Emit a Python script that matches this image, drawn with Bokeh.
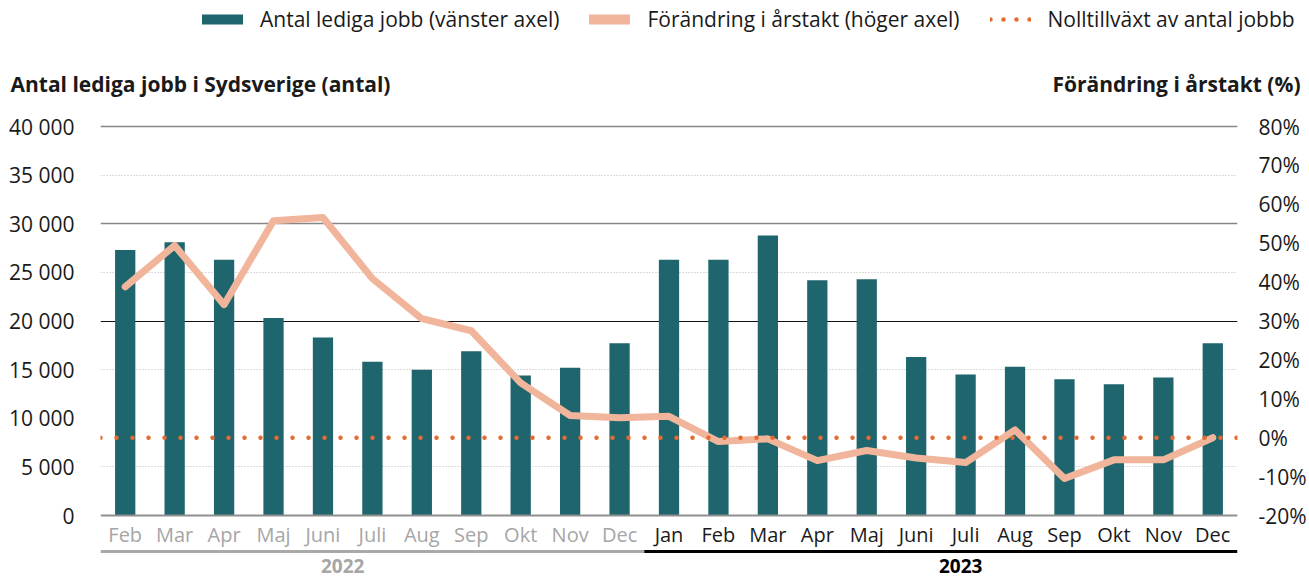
from bokeh.plotting import figure
from bokeh.layouts import column
from bokeh.core.properties import value
from bokeh.models import (Range1d, LinearAxis, FixedTicker, Grid, Span, Legend, LegendItem,
                          Label, LabelSet, ColumnDataSource, BoxAnnotation)
from bokeh.embed import file_html
from bokeh.resources import INLINE

# ---------------- data ----------------
months = ["Feb", "Mar", "Apr", "Maj", "Juni", "Juli", "Aug", "Sep", "Okt", "Nov", "Dec",
          "Jan", "Feb", "Mar", "Apr", "Maj", "Juni", "Juli", "Aug", "Sep", "Okt", "Nov", "Dec"]
years = ["2022"] * 11 + ["2023"] * 12
lediga_jobb = [27300, 28100, 26300, 20300, 18300, 15800, 15000, 16900, 14400, 15200, 17700,
               26300, 26300, 28800, 24200, 24300, 16300, 14500, 15300, 14000, 13500, 14200, 17700]
forandring = [38.8, 49.4, 34.2, 55.8, 56.6, 40.9, 30.6, 27.5, 14.1, 5.7, 5.1,
              5.5, -1.0, -0.3, -5.9, -3.3, -5.2, -6.4, 2.0, -10.5, -5.7, -5.7, 0.0]
nolltillvaxt = 0

left_ticks = [0, 5000, 10000, 15000, 20000, 25000, 30000, 35000, 40000]
left_labels = ["0", "5 000", "10 000", "15 000", "20 000", "25 000", "30 000", "35 000", "40 000"]
right_ticks = [-20, -10, 0, 10, 20, 30, 40, 50, 60, 70, 80]
right_labels = ["-20%", "-10%", "0%", "10%", "20%", "30%", "40%", "50%", "60%", "70%", "80%"]

legend_labels = ["Antal lediga jobb (vänster axel)", "Förändring i årstakt (höger axel)",
                 "Nolltillväxt av antal jobbb"]
left_title = "Antal lediga jobb i Sydsverige (antal)"
right_title = "Förändring i årstakt (%)"

# ---------------- style ----------------
FONT = "Open Sans"
TEAL = "#1e656e"
SALMON = "#f1b59b"
ORANGE = "#e8692d"
GREY_TXT = "#a6a6a6"
DARK = "#1a1a1a"

W = 1309
TOP_H = 105
MAIN_H = 578 - TOP_H
PLOT_PX = 389                      # pixel height of 0..40000
L0, L1 = left_ticks[0], left_ticks[-1]
R0, R1 = right_ticks[0], right_ticks[-1]
upp = (L1 - L0) / PLOT_PX          # left-axis units per pixel
EXTRA_TOP, EXTRA_BOTTOM = 21, 63   # pixels of frame above 40000 and below 0


def px(n):
    return n * upp


def to_right(v):
    return R0 + (v - L0) * (R1 - R0) / (L1 - L0)


xs = list(range(len(months)))
year_colors = {"2022": GREY_TXT, "2023": DARK}
NAN = float("nan")

# ---------------- top strip: legend and axis titles ----------------
top = figure(width=W, height=TOP_H, x_range=Range1d(0, W), y_range=Range1d(0, TOP_H),
             output_backend="svg", toolbar_location=None, frame_align=False,
             min_border_left=0, min_border_right=0, min_border_top=0, min_border_bottom=0)
top.outline_line_color = None
top.xaxis.visible = False
top.yaxis.visible = False
top.xgrid.visible = False
top.ygrid.visible = False

lg1 = top.line(x=[NAN], y=[NAN], line_color=TEAL, line_width=10, line_cap="round")
lg2 = top.line(x=[NAN], y=[NAN], line_color=SALMON, line_width=10, line_cap="round")
lg3 = top.line(x=[NAN], y=[NAN], line_color=ORANGE, line_width=4.5, line_cap="round",
               line_dash="0 13")
legend = Legend(items=[LegendItem(label=legend_labels[0], renderers=[lg1]),
                       LegendItem(label=legend_labels[1], renderers=[lg2]),
                       LegendItem(label=legend_labels[2], renderers=[lg3])],
                orientation="horizontal", location=(202, 72),
                glyph_width=41, glyph_height=20, label_standoff=17, spacing=30,
                padding=0, margin=0, border_line_color=None, background_fill_alpha=0,
                label_text_font=FONT, label_text_font_size="21px", label_text_color=DARK,
                label_height=20)
top.add_layout(legend)

top.add_layout(Label(x=10, y=TOP_H - 83, text=left_title,
                     text_font=FONT, text_font_style="bold", text_font_size="21px",
                     text_color=DARK, text_align="left", text_baseline="middle"))
top.add_layout(Label(x=1300, y=TOP_H - 83, text=right_title,
                     text_font=FONT, text_font_style="bold", text_font_size="21px",
                     text_color=DARK, text_align="right", text_baseline="middle"))

# ---------------- main chart ----------------
ys0, ys1 = L0 - px(EXTRA_BOTTOM), L1 + px(EXTRA_TOP)
p = figure(width=W, height=MAIN_H, x_range=Range1d(-0.5, len(months) - 0.5),
           y_range=Range1d(ys0, ys1), frame_align=False,
           output_backend="svg", toolbar_location=None,
           min_border_left=100, min_border_right=71, min_border_top=0, min_border_bottom=0)
p.outline_line_color = None
p.extra_y_ranges = {"pct": Range1d(to_right(ys0), to_right(ys1))}
p.xaxis.visible = False
p.xgrid.visible = False
p.ygrid.visible = False

# left axis
p.yaxis.ticker = FixedTicker(ticks=left_ticks)
p.yaxis.major_label_overrides = dict(zip(left_ticks, left_labels))
p.yaxis.axis_line_color = None
p.yaxis.major_tick_line_color = None
p.yaxis.minor_tick_line_color = None
p.yaxis.major_label_standoff = 20
p.yaxis.major_label_text_font = FONT
p.yaxis.major_label_text_font_size = "21px"
p.yaxis.major_label_text_color = DARK

# right axis
ra = LinearAxis(y_range_name="pct", ticker=FixedTicker(ticks=right_ticks),
                major_label_overrides=dict(zip(right_ticks, right_labels)),
                axis_line_color=None, major_tick_line_color=None, minor_tick_line_color=None,
                major_label_standoff=15, major_label_text_font=FONT,
                major_label_text_font_size="21px", major_label_text_color=DARK)
p.add_layout(ra, "right")

# grids
p.add_layout(Grid(dimension=1, ticker=FixedTicker(ticks=[5000, 15000, 25000, 35000]),
                  grid_line_color="#b8b8b8", grid_line_width=1, grid_line_dash="1 2"))
p.add_layout(Grid(dimension=1, ticker=FixedTicker(ticks=[30000, 40000]),
                  grid_line_color="#868686", grid_line_width=1.5))
p.add_layout(Grid(dimension=1, ticker=FixedTicker(ticks=[20000]),
                  grid_line_color="#111111", grid_line_width=1.2))

# bars
p.vbar(x=xs, top=lediga_jobb, width=0.41, fill_color=TEAL, line_color=None)

# baseline (x axis line)
p.add_layout(Span(location=L0, dimension="width", line_color="#8f8f8f", line_width=2))

# yearly change line
p.line(x=xs, y=forandring, y_range_name="pct", line_color=SALMON, line_width=7,
       line_join="round", line_cap="round")

# zero growth line
p.add_layout(Span(location=nolltillvaxt, dimension="width", y_range_name="pct",
                  line_color=ORANGE, line_width=4.5, line_dash="0 16", line_cap="round"))

# month labels
msrc = ColumnDataSource(dict(x=xs, y=[px(-19)] * len(xs), text=months,
                             color=[year_colors[y] for y in years]))
p.add_layout(LabelSet(x="x", y="y", text="text", source=msrc,
                      text_color="color", text_font=value(FONT), text_font_size=value("20px"),
                      text_align="center", text_baseline="middle"))

# year brackets and labels
split = years.index("2023") - 0.5
p.add_layout(BoxAnnotation(left=-0.5, right=split, top=px(-34.5), bottom=px(-37.5),
                           fill_color="#a9a9a9", fill_alpha=1, line_color=None))
p.add_layout(BoxAnnotation(left=split, right=len(months) - 0.5, top=px(-34.5), bottom=px(-37.5),
                           fill_color="#000000", fill_alpha=1, line_color=None))
p.add_layout(Label(x=4.4, y=px(-50), text="2022", text_font=FONT,
                   text_font_style="bold", text_font_size="19px", text_color=GREY_TXT,
                   text_align="center", text_baseline="middle"))
p.add_layout(Label(x=16.9, y=px(-50), text="2023", text_font=FONT,
                   text_font_style="bold", text_font_size="19px", text_color="#000000",
                   text_align="center", text_baseline="middle"))

open("out.html", "w").write(file_html(column(top, p, spacing=0), INLINE))
